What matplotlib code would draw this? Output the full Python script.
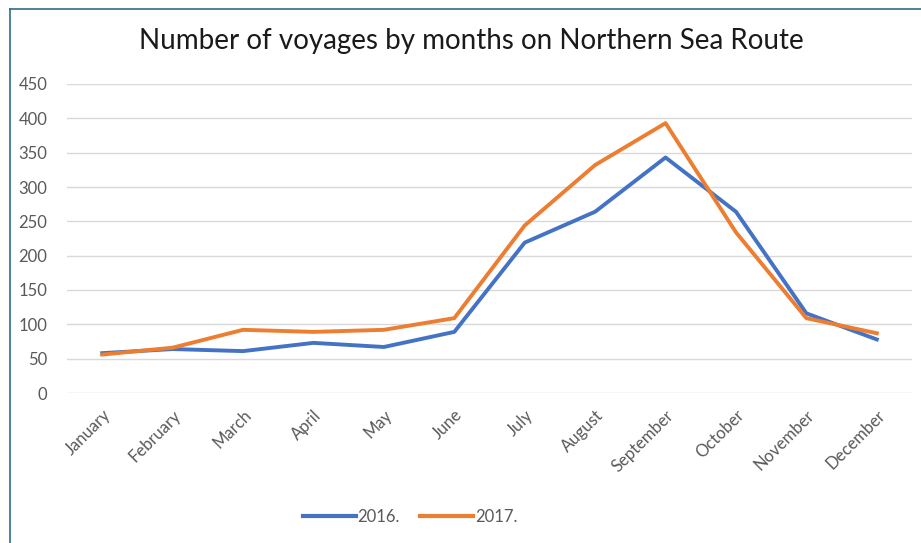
import matplotlib
matplotlib.use("Agg")
import matplotlib.pyplot as plt
from matplotlib.lines import Line2D

months = ["January", "February", "March", "April", "May", "June", "July",
          "August", "September", "October", "November", "December"]
v2016 = [58, 64, 61, 73, 67, 89, 219, 264, 343, 264, 116, 78]
v2017 = [56, 66, 92, 89, 92, 109, 244, 332, 393, 234, 109, 87]
series_labels = ["2016.", "2017."]
yticks = [0, 50, 100, 150, 200, 250, 300, 350, 400, 450]

plt.rcParams['font.family'] = ['Lato', 'DejaVu Sans']

fig = plt.figure(figsize=(9.21, 5.43), dpi=100)
ax = fig.add_axes([67/921, 1-393/543, (912-67)/921, (393-84)/543])

x = list(range(len(months)))
ax.plot(x, v2016, color="#4472C4", lw=2.8, label=series_labels[0], solid_joinstyle="round")
ax.plot(x, v2017, color="#ED7D31", lw=2.8, label=series_labels[1], solid_joinstyle="round")

ax.set_xlim(-0.5, len(months)-0.5)
ax.set_ylim(0, 450)
ax.set_yticks(yticks)
ax.set_yticklabels([str(t) for t in yticks], color="#595959", fontsize=12)
ax.set_xticks(x)
ax.set_xticklabels(months, rotation=45, ha="right", rotation_mode="anchor",
                   color="#595959", fontsize=12)
ax.tick_params(axis="y", length=0, pad=14)
ax.tick_params(axis="x", length=0, pad=10)
ax.grid(axis="y", color="#D9D9D9", lw=1)
ax.set_axisbelow(True)
for s in ax.spines.values():
    s.set_visible(False)

fig.text(471/921, 1-41/543, "Number of voyages by months on Northern Sea Route",
         ha="center", va="center", fontsize=20, color="#1a1a1a")

handles = [Line2D([], [], color="#4472C4", lw=3), Line2D([], [], color="#ED7D31", lw=3)]
fig.legend(handles, series_labels, loc="center", bbox_to_anchor=(410/921, 1-517/543),
           ncol=2, frameon=False, fontsize=12, handlelength=3.2, handletextpad=0.1,
           columnspacing=1.2, labelcolor="#595959")

# chart border (top and left)
fig.add_artist(Line2D([10/921, 1], [1-9/543, 1-9/543], color="#2E6E80", lw=1.2, transform=fig.transFigure))
fig.add_artist(Line2D([10/921, 10/921], [0, 1-9/543], color="#2E6E80", lw=1.2, transform=fig.transFigure))

fig.savefig("out.png", dpi=100)
